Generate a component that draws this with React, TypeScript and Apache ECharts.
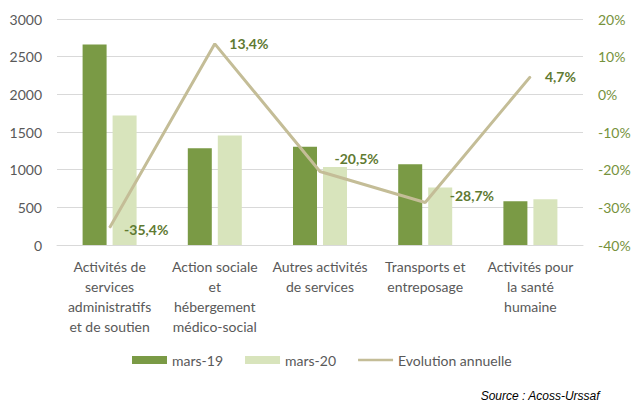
import React, { useEffect, useRef } from "react";
import * as echarts from "echarts";

const categories = [
  "Activités de\nservices\nadministratifs\net de soutien",
  "Action sociale\net\nhébergement\nmédico-social",
  "Autres activités\nde services",
  "Transports et\nentreposage",
  "Activités pour\nla santé\nhumaine",
];
const mars19 = [2660, 1283, 1305, 1071, 580];
const mars20 = [1718, 1455, 1037, 764, 607];
const evolution = [-35.4, 13.4, -20.5, -28.7, 4.7];
const labelOffsets = [
  [0, 2],
  [0, 0],
  [0, -13],
  [10, -7],
  [0, 0],
];
const leftTicks = { min: 0, max: 3000, interval: 500 };
const rightTicks = { min: -40, max: 20, interval: 10 };

const FONT = "Lato";

export default function App() {
  const ref = useRef<HTMLDivElement>(null);
  useEffect(() => {
    document.body.style.margin = "0";
    const chart = echarts.init(ref.current!, null, { renderer: "svg" });
    chart.setOption({
      animation: false,
      backgroundColor: "#ffffff",
      textStyle: { fontFamily: FONT },
      grid: { left: 57, right: 52, top: 19, bottom: 158 },
      legend: {
        bottom: 31,
        left: 127,
        itemWidth: 35,
        itemHeight: 8,
        itemGap: 22,
        textStyle: { fontFamily: FONT, fontSize: 14, color: "#595959" },
        data: [
          { name: "mars-19", icon: "rect" },
          { name: "mars-20", icon: "rect" },
          { name: "Evolution annuelle", icon: "path://M0,0L35,0L35,2.5L0,2.5Z" },
        ],
      },
      xAxis: {
        type: "category",
        data: categories,
        axisLine: { lineStyle: { color: "#d9d9d9", width: 1 } },
        axisTick: { show: false },
        axisLabel: {
          interval: 0,
          margin: 11,
          fontSize: 14,
          lineHeight: 20,
          color: "#595959",
          fontFamily: FONT,
        },
      },
      yAxis: [
        {
          type: "value",
          min: leftTicks.min,
          max: leftTicks.max,
          interval: leftTicks.interval,
          axisLine: { show: false },
          axisTick: { show: false },
          splitLine: { lineStyle: { color: "#d9d9d9", width: 1 } },
          axisLabel: {
            fontSize: 14,
            color: "#595959",
            margin: 15,
            fontFamily: FONT,
            formatter: (v: number) => String(v),
          },
        },
        {
          type: "value",
          min: rightTicks.min,
          max: rightTicks.max,
          interval: rightTicks.interval,
          axisLine: { show: false },
          axisTick: { show: false },
          splitLine: { show: false },
          axisLabel: {
            fontSize: 14,
            color: "#76923c",
            margin: 15,
            fontFamily: FONT,
            formatter: (v: number) => `${v}%`,
          },
        },
      ],
      series: [
        {
          name: "mars-19",
          type: "bar",
          data: mars19,
          barWidth: 24,
          barGap: "25%",
          itemStyle: { color: "#7a9a45" },
        },
        {
          name: "mars-20",
          type: "bar",
          data: mars20,
          barWidth: 24,
          itemStyle: { color: "#d8e4bc" },
        },
        {
          name: "Evolution annuelle",
          type: "line",
          yAxisIndex: 1,
          data: evolution.map((v, i) => ({
            value: v,
            label: { show: true, offset: labelOffsets[i] },
          })),
          symbol: "circle",
          symbolSize: 1,
          showSymbol: true,
          lineStyle: { color: "#c4bd97", width: 3 },
          itemStyle: { color: "#c4bd97" },
          label: {
            show: true,
            position: "right",
            distance: 14,
            fontSize: 14,
            fontWeight: "bold",
            color: "#5f7a32",
            fontFamily: FONT,
            formatter: (p: any) => `${String(p.value).replace(".", ",")}%`,
          },
        },
      ],
      graphic: [
        {
          type: "text",
          right: 35,
          top: 390,
          style: {
            text: "Source : Acoss-Urssaf",
            fontSize: 12,
            fontStyle: "italic",
            fill: "#000000",
            fontFamily: "Liberation Sans",
          },
        },
      ],
    });
    return () => chart.dispose();
  }, []);
  return (
    <div
      ref={ref}
      style={{ position: "fixed", left: 0, top: 0, width: 635, height: 403 }}
    />
  );
}
